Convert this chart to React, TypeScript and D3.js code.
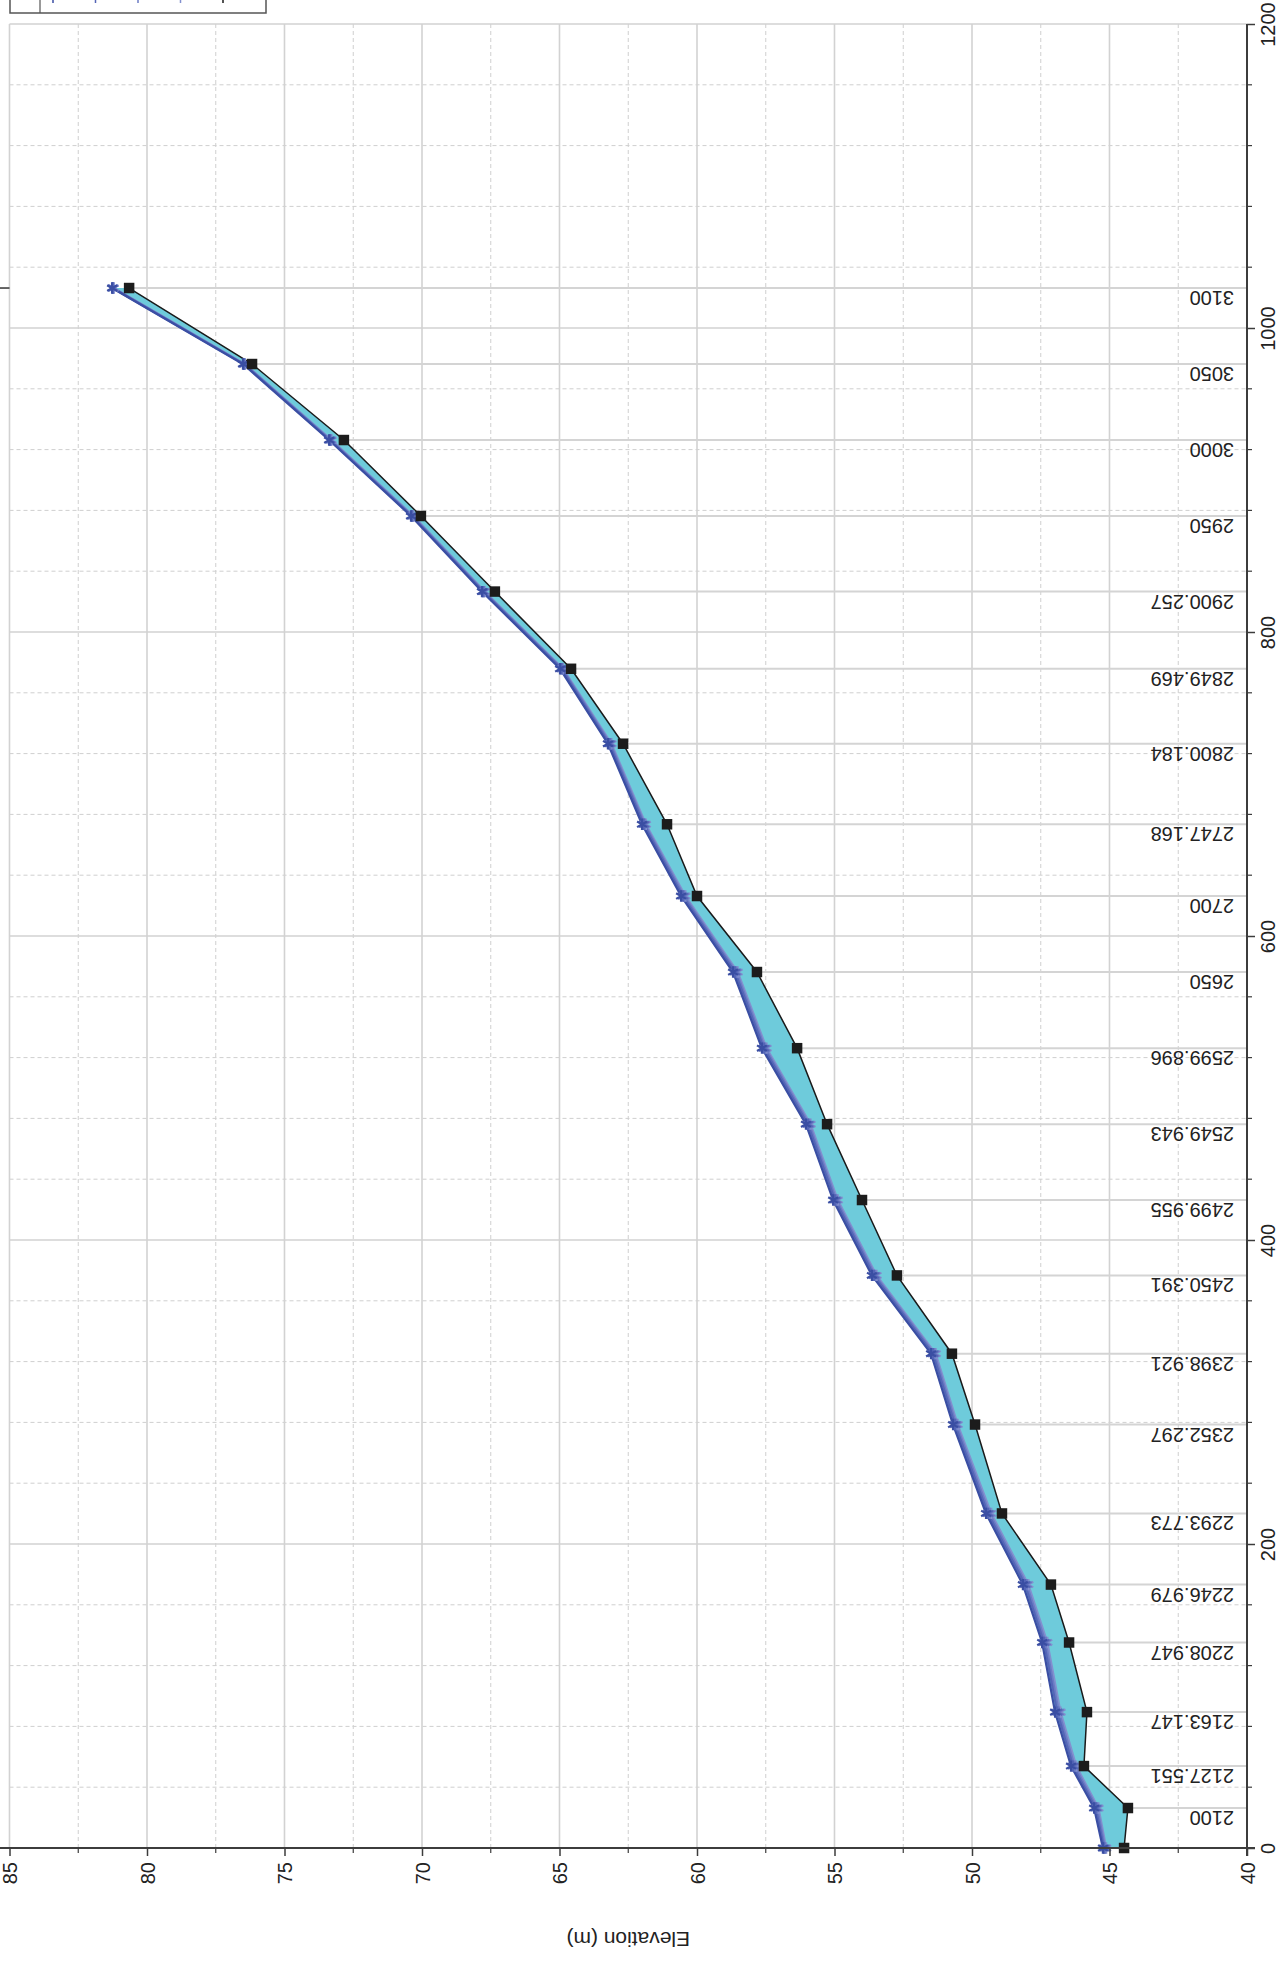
import React, { useRef, useEffect } from "react";
import * as d3 from "d3";

// river stations (first one has no label on the plot)
const stations = ["", "2100", "2127.551", "2163.147", "2208.947", "2246.979", "2293.773", "2352.297", "2398.921", "2450.391", "2499.955", "2549.943", "2599.896", "2650", "2700", "2747.168", "2800.184", "2849.469", "2900.257", "2950", "3000", "3050", "3100"];
// main channel distance (m)
const distance = [0, 26.3, 53.9, 89.4, 135.2, 173.3, 220.1, 278.6, 325.2, 376.7, 426.3, 476.2, 526.2, 576.3, 626.3, 673.5, 726.5, 775.8, 826.6, 876.3, 926.3, 976.3, 1026.3];
// channel bed
const ground = [44.47, 44.33, 45.93, 45.82, 46.47, 47.13, 48.91, 49.89, 50.73, 52.73, 54.0, 55.27, 56.36, 57.82, 60.0, 61.09, 62.69, 64.58, 67.35, 70.04, 72.84, 76.18, 80.65];
// water surface profiles
const ws1 = [45.24, 45.56, 46.4, 46.98, 47.45, 48.15, 49.49, 50.69, 51.49, 53.64, 55.05, 56.04, 57.64, 58.69, 60.58, 62.0, 63.24, 64.98, 67.82, 70.4, 73.38, 76.51, 81.27];
const ws2 = [45.2, 45.5, 46.33, 46.9, 47.38, 48.07, 49.42, 50.62, 51.42, 53.57, 54.98, 55.97, 57.57, 58.62, 60.52, 61.94, 63.19, 64.93, 67.78, 70.37, 73.35, 76.48, 81.25];
const ws3 = [45.16, 45.45, 46.27, 46.84, 47.32, 48.01, 49.36, 50.57, 51.37, 53.52, 54.93, 55.92, 57.52, 58.57, 60.47, 61.9, 63.15, 64.9, 67.75, 70.34, 73.32, 76.46, 81.23];
const ws4 = [45.12, 45.4, 46.21, 46.78, 47.26, 47.95, 49.3, 50.52, 51.32, 53.47, 54.88, 55.87, 57.47, 58.52, 60.42, 61.86, 63.11, 64.87, 67.72, 70.31, 73.29, 76.44, 81.21];

const distTicks = [0, 200, 400, 600, 800, 1000, 1200];
const elevTicks = [40, 45, 50, 55, 60, 65, 70, 75, 80, 85];

const WIDTH = 1281;
const HEIGHT = 1966;
const FONT = "'Liberation Sans', Arial, sans-serif";

const App: React.FC = () => {
  const ref = useRef<SVGSVGElement | null>(null);

  useEffect(() => {
    const svg = d3.select(ref.current);
    svg.selectAll("*").remove();

    // chart is drawn turned on its side: distance runs up, elevation runs left
    const y = d3.scaleLinear().domain([0, 1200]).range([1848, 24]);
    const x = d3.scaleLinear().domain([40, 85]).range([1247, 9.5]);

    const g = svg.append("g");

    // minor grid
    const minorD = d3.range(0, 1201, 40).filter((d) => d % 200 !== 0);
    const minorE = d3.range(42.5, 85, 5);
    g.selectAll(".minor-h")
      .data(minorD)
      .enter()
      .append("line")
      .attr("x1", x(85))
      .attr("x2", x(40))
      .attr("y1", (d) => y(d))
      .attr("y2", (d) => y(d))
      .attr("stroke", "#cfcfcf")
      .attr("stroke-dasharray", "4,3");
    g.selectAll(".minor-v")
      .data(minorE)
      .enter()
      .append("line")
      .attr("y1", y(0))
      .attr("y2", y(1200))
      .attr("x1", (d) => x(d))
      .attr("x2", (d) => x(d))
      .attr("stroke", "#cfcfcf")
      .attr("stroke-dasharray", "4,3");

    // major grid
    g.selectAll(".major-h")
      .data(distTicks.slice(1))
      .enter()
      .append("line")
      .attr("x1", x(85))
      .attr("x2", x(40))
      .attr("y1", (d) => y(d))
      .attr("y2", (d) => y(d))
      .attr("stroke", "#d2d2d2")
      .attr("stroke-width", 1.6);
    g.selectAll(".major-v")
      .data(elevTicks.slice(1))
      .enter()
      .append("line")
      .attr("y1", y(0))
      .attr("y2", y(1200))
      .attr("x1", (d) => x(d))
      .attr("x2", (d) => x(d))
      .attr("stroke", "#d2d2d2")
      .attr("stroke-width", 1.6);

    // station lines from bed down to the axis
    g.selectAll(".station-line")
      .data(distance)
      .enter()
      .append("line")
      .attr("x1", (d, i) => x(ground[i]))
      .attr("x2", x(40))
      .attr("y1", (d) => y(d))
      .attr("y2", (d) => y(d))
      .attr("stroke", "#d4d4d4")
      .attr("stroke-width", 2);

    // station labels
    g.selectAll(".station-label")
      .data(stations)
      .enter()
      .filter((s) => s !== "")
      .append("text")
      .attr("x", x(40) - 13)
      .attr("y", (s) => y(distance[stations.indexOf(s)]) + 3)
      .attr("transform", (s) => {
        const px = x(40) - 13;
        const py = y(distance[stations.indexOf(s)]) + 3;
        return `rotate(180,${px},${py})`;
      })
      .attr("text-anchor", "start")
      .attr("font-family", FONT)
      .attr("font-size", 20)
      .attr("fill", "#222")
      .text((s) => s);

    const idx = d3.range(distance.length);

    // water fill between bed and highest water surface
    const area = d3
      .area<number>()
      .y((i) => y(distance[i]))
      .x0((i) => x(ground[i]))
      .x1((i) => x(ws1[i]));
    g.append("path")
      .datum(idx)
      .attr("d", area)
      .attr("fill", "#6ecbdb");

    const series = [
      { vals: ws4, color: "#8390cf" },
      { vals: ws3, color: "#6b7bc4" },
      { vals: ws2, color: "#5465b6" },
      { vals: ws1, color: "#3a4ea3" },
    ];

    series.forEach((s) => {
      const line = d3
        .line<number>()
        .x((i) => x(s.vals[i]))
        .y((i) => y(distance[i]));
      g.append("path")
        .datum(idx)
        .attr("d", line)
        .attr("fill", "none")
        .attr("stroke", s.color)
        .attr("stroke-width", 2.2);
    });

    // ground line
    const groundLine = d3
      .line<number>()
      .x((i) => x(ground[i]))
      .y((i) => y(distance[i]));
    g.append("path")
      .datum(idx)
      .attr("d", groundLine)
      .attr("fill", "none")
      .attr("stroke", "#1a1a1a")
      .attr("stroke-width", 1.5);

    // markers
    const star = d3.symbol().type(d3.symbolAsterisk).size(90);
    series.forEach((s) => {
      g.selectAll(null)
        .data(idx)
        .enter()
        .append("path")
        .attr("d", star)
        .attr("transform", (i) => `translate(${x(s.vals[i])},${y(distance[i])})`)
        .attr("fill", "none")
        .attr("stroke", s.color)
        .attr("stroke-width", 2.2);
    });
    const square = d3.symbol().type(d3.symbolSquare).size(110);
    g.selectAll(".ground-pt")
      .data(idx)
      .enter()
      .append("path")
      .attr("d", square)
      .attr("transform", (i) => `translate(${x(ground[i])},${y(distance[i])})`)
      .attr("fill", "#1c1c1c");

    // axes lines
    g.append("line")
      .attr("x1", x(40))
      .attr("x2", x(40))
      .attr("y1", y(1200))
      .attr("y2", y(0) + 8)
      .attr("stroke", "#3c3c3c")
      .attr("stroke-width", 2);
    g.append("line")
      .attr("x1", 0)
      .attr("x2", x(40) + 8)
      .attr("y1", y(0))
      .attr("y2", y(0))
      .attr("stroke", "#3c3c3c")
      .attr("stroke-width", 2);

    // distance axis (right side)
    const dAxis = g
      .append("g")
      .attr("transform", `translate(${x(40)},0)`)
      .call(
        d3
          .axisRight(y)
          .tickValues(distTicks)
          .tickFormat(d3.format("d"))
          .tickSize(8)
          .tickSizeOuter(0) as any,
      );
    dAxis.select(".domain").remove();
    dAxis.selectAll("line").attr("stroke", "#3c3c3c").attr("stroke-width", 1.5);
    dAxis
      .selectAll("text")
      .attr("x", 0)
      .attr("y", 0)
      .attr("dy", 0)
      .attr("transform", "translate(28,0) rotate(-90)")
      .attr("text-anchor", "middle")
      .attr("font-family", FONT)
      .attr("font-size", 20)
      .attr("fill", "#222");
    g.selectAll(".d-minor")
      .data(minorD)
      .enter()
      .append("line")
      .attr("x1", x(40))
      .attr("x2", x(40) + 5)
      .attr("y1", (d) => y(d))
      .attr("y2", (d) => y(d))
      .attr("stroke", "#3c3c3c")
      .attr("stroke-width", 1.2);

    // elevation axis (bottom)
    const eAxis = g
      .append("g")
      .attr("transform", `translate(0,${y(0)})`)
      .call(
        d3
          .axisBottom(x)
          .tickValues(elevTicks)
          .tickFormat(d3.format("d"))
          .tickSize(8)
          .tickSizeOuter(0) as any,
      );
    eAxis.select(".domain").remove();
    eAxis.selectAll("line").attr("stroke", "#3c3c3c").attr("stroke-width", 1.5);
    eAxis
      .selectAll("text")
      .attr("x", 0)
      .attr("y", 0)
      .attr("dy", 0)
      .attr("transform", "translate(7,14) rotate(-90)")
      .attr("text-anchor", "end")
      .attr("font-family", FONT)
      .attr("font-size", 20)
      .attr("fill", "#222");
    g.selectAll(".e-minor")
      .data(minorE)
      .enter()
      .append("line")
      .attr("x1", (d) => x(d))
      .attr("x2", (d) => x(d))
      .attr("y1", y(0))
      .attr("y2", y(0) + 5)
      .attr("stroke", "#3c3c3c")
      .attr("stroke-width", 1.2);

    // axis title
    const tx = (x(40) + x(85)) / 2;
    g.append("text")
      .attr("x", tx)
      .attr("y", 1932)
      .attr("transform", `rotate(180,${tx},1932)`)
      .attr("text-anchor", "middle")
      .attr("font-family", FONT)
      .attr("font-size", 21)
      .attr("fill", "#222")
      .text("Elevation (m)");

    // small mark at the upstream station on the left edge
    const last = distance.length - 1;
    g.append("line")
      .attr("x1", x(85) - 10)
      .attr("x2", x(85))
      .attr("y1", y(distance[last]))
      .attr("y2", y(distance[last]))
      .attr("stroke", "#333")
      .attr("stroke-width", 1.5);

    // legend (mostly above the visible page)
    const legend = g.append("g");
    legend
      .append("rect")
      .attr("x", 10)
      .attr("y", -30)
      .attr("width", 256)
      .attr("height", 43)
      .attr("fill", "#fff")
      .attr("stroke", "#555")
      .attr("stroke-width", 1.5);
    legend
      .append("line")
      .attr("x1", 40)
      .attr("x2", 40)
      .attr("y1", -30)
      .attr("y2", 13)
      .attr("stroke", "#555")
      .attr("stroke-width", 1.2);
    const legendColors = [...series.map((s) => s.color).reverse(), "#1a1a1a"];
    const lx = d3.scaleLinear().domain([0, legendColors.length - 1]).range([53, 223]);
    legend
      .selectAll(".lg-tick")
      .data(legendColors)
      .enter()
      .append("line")
      .attr("x1", (c, i) => lx(i))
      .attr("x2", (c, i) => lx(i))
      .attr("y1", -5)
      .attr("y2", 3)
      .attr("stroke", (c) => c)
      .attr("stroke-width", 1.5);
  }, []);

  return (
    <svg
      ref={ref}
      width={WIDTH}
      height={HEIGHT}
      style={{ position: "absolute", left: 0, top: 0, background: "#fff" }}
    />
  );
};

export default App;
